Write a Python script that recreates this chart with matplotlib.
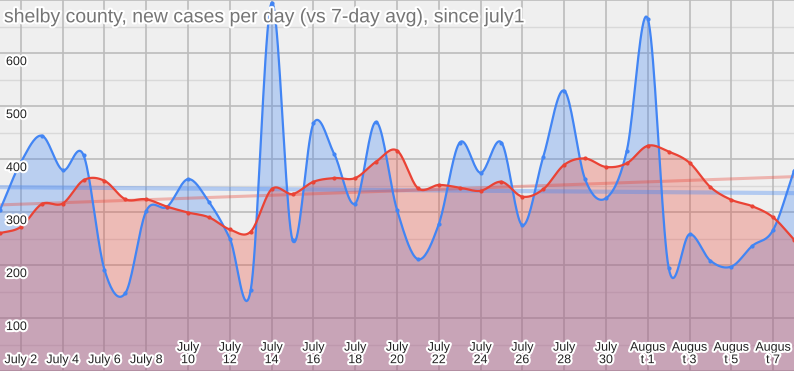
import numpy as np
import matplotlib
matplotlib.use("Agg")
import matplotlib.pyplot as plt
import matplotlib.patheffects as pe

plt.rcParams['font.family'] = ['Liberation Sans', 'DejaVu Sans']

title = "shelby county, new cases per day (vs 7-day avg), since july1"

# daily new cases, July 1 .. August 8
daily = [304, 394, 444, 379, 407, 191, 147, 302, 310, 362,
         319, 250, 153, 695, 247, 467, 409, 316, 470, 304,
         211, 277, 431, 374, 431, 275, 404, 529, 362, 326,
         416, 665, 195, 258, 208, 197, 236, 266, 378]
# 7-day average
avg7 = [260, 272, 315, 316, 360, 359, 324, 324, 310, 299,
        290, 267, 263, 343, 334, 357, 364, 364, 395, 416,
        345, 351, 346, 340, 357, 329, 343, 389, 401, 385,
        392, 425, 414, 393, 347, 323, 311, 290, 248]

tick_pos = list(range(1, 38, 2))
tick_labels = ["July 2", "July 4", "July 6", "July 8", "July\n10", "July\n12",
               "July\n14", "July\n16", "July\n18", "July\n20", "July\n22",
               "July\n24", "July\n26", "July\n28", "July\n30",
               "Augus\nt 1", "Augus\nt 3", "Augus\nt 5", "Augus\nt 7"]
y_ticks = [100, 200, 300, 400, 500, 600]

BLUE = "#4285f4"
RED = "#ea4335"


def smooth(y, n=20):
    y = np.asarray(y, float)
    N = len(y)
    m = np.zeros(N)
    m[1:-1] = (y[2:] - y[:-2]) / 2
    m[0] = y[1] - y[0]
    m[-1] = y[-1] - y[-2]
    xs, ys = [], []
    t = np.linspace(0, 1, n, endpoint=False)
    for i in range(N - 1):
        h00 = 2 * t**3 - 3 * t**2 + 1
        h10 = t**3 - 2 * t**2 + t
        h01 = -2 * t**3 + 3 * t**2
        h11 = t**3 - t**2
        xs.append(i + t)
        ys.append(h00 * y[i] + h10 * m[i] + h01 * y[i + 1] + h11 * m[i + 1])
    xs.append([N - 1])
    ys.append([y[-1]])
    return np.concatenate(xs), np.concatenate(ys)


fig = plt.figure(figsize=(7.94, 3.71), dpi=100)
fig.patch.set_facecolor("#efefef")
ax = fig.add_axes([0, 0, 1, 1])
ax.set_facecolor("#efefef")
ax.set_xlim(0, 38)
ax.set_ylim(0, 700)

# gridlines
for v in range(0, 701, 100):
    ax.axhline(v, color="#bcbcbc", lw=1.2, zorder=0)
for v in range(50, 700, 100):
    ax.axhline(v, color="#d9d9d9", lw=1.0, zorder=0)
for p in tick_pos:
    ax.axvline(p, color="#bcbcbc", lw=1.2, zorder=0)

x = np.arange(len(daily))
bx, by = smooth(daily)
rx, ry = smooth(avg7)

ax.fill_between(bx, 0, by, color=BLUE, alpha=0.3, lw=0, zorder=1)
ax.fill_between(rx, 0, ry, color=RED, alpha=0.3, lw=0, zorder=2)

# linear trendlines
for series, col, lw in ((daily, BLUE, 3), (avg7, RED, 2.2)):
    k, b = np.polyfit(x, series, 1)
    xx = np.array([0, 38])
    ax.plot(xx, k * xx + b, color=col, alpha=0.35, lw=lw, zorder=3,
            solid_capstyle="butt")

ax.plot(bx, by, color=BLUE, lw=1.6, zorder=4)
ax.plot(x, daily, "o", color=BLUE, ms=2.0, zorder=4)
ax.plot(rx, ry, color=RED, lw=1.6, zorder=5)
ax.plot(x, avg7, "o", color=RED, ms=2.0, zorder=5)

halo = [pe.withStroke(linewidth=3, foreground="white")]

for v in y_ticks:
    ax.annotate(str(v), xy=(0, v), xycoords=("axes fraction", "data"),
                xytext=(4.3, -2.2), textcoords="offset points",
                ha="left", va="top", fontsize=9, color="#222222",
                path_effects=halo, zorder=10)

for p, lab in zip(tick_pos, tick_labels):
    ax.annotate(lab, xy=(p, 0), xycoords="data",
                xytext=(0, 3.5), textcoords="offset points",
                ha="center", va="bottom", fontsize=9, color="#222222",
                linespacing=1.05, path_effects=halo, zorder=10)

ax.text(0.005, 0.952, title, transform=ax.transAxes, ha="left", va="center",
        fontsize=14, color="#757575", path_effects=halo, zorder=10)

ax.set_xticks([])
ax.set_yticks([])
for s in ax.spines.values():
    s.set_visible(False)

fig.savefig("out.png", dpi=100, facecolor=fig.get_facecolor())
